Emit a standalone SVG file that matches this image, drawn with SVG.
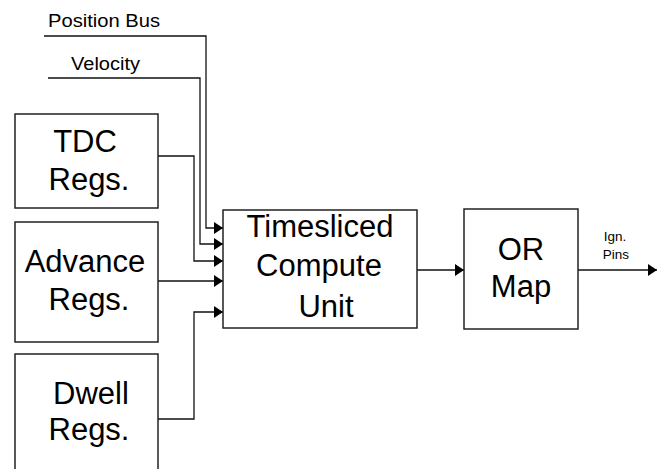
<svg xmlns="http://www.w3.org/2000/svg" width="662" height="469" viewBox="0 0 662 469">
  <defs>
    <marker id="arrow" markerUnits="userSpaceOnUse" markerWidth="9" markerHeight="12" refX="9" refY="6" orient="auto">
      <path d="M0,0 L9,6 L0,12 z" fill="#000"/>
    </marker>
    <style>
      .box { fill: #fff; stroke: #222; stroke-width: 1.5; }
      .wire { fill: none; stroke: #111; stroke-width: 1.3; }
      .big { font-family: "Liberation Sans", Arial, sans-serif; font-size: 31px; fill: #000; text-anchor: middle; }
      .lbl { font-family: "Liberation Sans", Arial, sans-serif; font-size: 17.5px; fill: #000; }
      .small { font-family: "Liberation Sans", Arial, sans-serif; font-size: 13.5px; fill: #000; text-anchor: middle; }
    </style>
  </defs>
  <rect width="662" height="469" fill="#fff"/>

  <g id="connectors">
    <path class="wire" d="M44,36 H206 V228 H223" marker-end="url(#arrow)"/>
    <path class="wire" d="M48,78 H200 V244 H223" marker-end="url(#arrow)"/>
    <path class="wire" d="M158,156 H194 V261 H223" marker-end="url(#arrow)"/>
    <path class="wire" d="M158,281 H223" marker-end="url(#arrow)"/>
    <path class="wire" d="M158,419 H194 V312 H223" marker-end="url(#arrow)"/>
    <path class="wire" d="M417,270 H464" marker-end="url(#arrow)"/>
    <path class="wire" d="M578,270 H657" marker-end="url(#arrow)"/>
    <text class="lbl" x="48" y="27" textLength="112" lengthAdjust="spacingAndGlyphs">Position Bus</text>
    <text class="lbl" x="71" y="70" textLength="69" lengthAdjust="spacingAndGlyphs">Velocity</text>
    <text class="small" x="615" y="241">Ign.</text>
    <text class="small" x="616" y="259">Pins</text>
  </g>

  <g id="tdc">
    <rect class="box" x="15" y="114" width="143" height="94"/>
    <text class="big" x="85" y="152">TDC</text>
    <text class="big" x="89" y="190">Regs.</text>
  </g>

  <g id="advance">
    <rect class="box" x="15" y="222" width="143" height="120"/>
    <text class="big" x="85" y="272">Advance</text>
    <text class="big" x="89" y="310">Regs.</text>
  </g>

  <g id="dwell">
    <rect class="box" x="15" y="354" width="143" height="130"/>
    <text class="big" x="91" y="404">Dwell</text>
    <text class="big" x="89" y="440">Regs.</text>
  </g>

  <g id="compute">
    <rect class="box" x="223" y="210" width="194" height="118"/>
    <text class="big" x="320" y="237">Timesliced</text>
    <text class="big" x="319" y="276">Compute</text>
    <text class="big" x="326" y="317">Unit</text>
  </g>

  <g id="ormap">
    <rect class="box" x="464" y="209" width="114" height="120"/>
    <text class="big" x="521" y="260">OR</text>
    <text class="big" x="521" y="297">Map</text>
  </g>
</svg>
